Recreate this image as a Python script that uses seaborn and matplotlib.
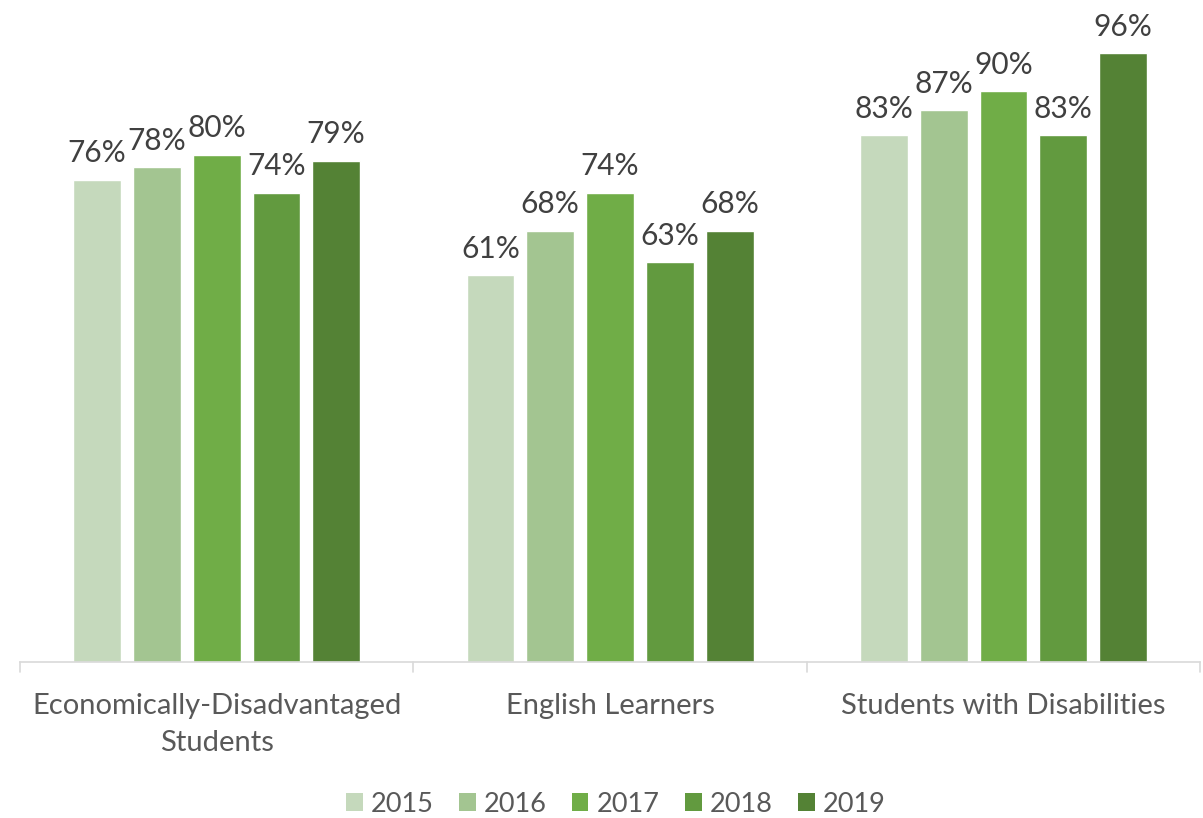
import pandas as pd
import seaborn as sns
import matplotlib.pyplot as plt
from matplotlib.patches import Patch

groups = ["Economically-Disadvantaged\nStudents", "English Learners", "Students with Disabilities"]
years = ["2015", "2016", "2017", "2018", "2019"]
values_2015 = [76, 61, 83]
values_2016 = [78, 68, 87]
values_2017 = [80, 74, 90]
values_2018 = [74, 63, 83]
values_2019 = [79, 68, 96]
colors = ["#C5D9BC", "#A3C591", "#70AD47", "#629A3F", "#548235"]

series = [values_2015, values_2016, values_2017, values_2018, values_2019]
rows = []
for year, vals in zip(years, series):
    for g, v in zip(groups, vals):
        rows.append({"Group": g, "Year": year, "Value": v})
df = pd.DataFrame(rows)

sns.set_theme(style="white")
plt.rcParams['font.family'] = ['Lato', 'DejaVu Sans']

fig = plt.figure(figsize=(12.03, 8.18), dpi=100)
ax = fig.add_axes([0.0166, 0.1907, 0.981, 0.791])

sns.barplot(data=df, x="Group", y="Value", hue="Year", palette=colors,
            width=0.76, gap=0.2, ax=ax, legend=False, saturation=1)

for cont in ax.containers:
    ax.bar_label(cont, labels=[f"{v:.0f}%" for v in cont.datavalues],
                 padding=9, fontsize=21.5, color="#404040")

ax.set_xlim(-0.5, 2.5)
ax.set_ylim(0, 102)
ax.set_xlabel("")
ax.set_ylabel("")
ax.set_yticks([])
for s in ["top", "right", "left"]:
    ax.spines[s].set_visible(False)
ax.spines["bottom"].set_color("#D9D9D9")
ax.spines["bottom"].set_linewidth(1.2)

ax.tick_params(axis="x", length=0, pad=22, labelsize=21, labelcolor="#595959")
for lab in ax.get_xticklabels():
    lab.set_linespacing(1.55)
for xb in [-0.5, 0.5, 1.5, 2.5]:
    ax.plot([xb, xb], [0, -1.6], color="#D9D9D9", lw=1.2, clip_on=False)

handles = [Patch(facecolor=c, edgecolor="none") for c in colors]
fig.legend(handles, years, loc="center", bbox_to_anchor=(0.512, 0.017), ncol=5,
           frameon=False, fontsize=19.5, labelcolor="#595959", handlelength=0.6,
           handleheight=0.6, handletextpad=0.3, columnspacing=0.95)

fig.savefig("out.png", dpi=100)
